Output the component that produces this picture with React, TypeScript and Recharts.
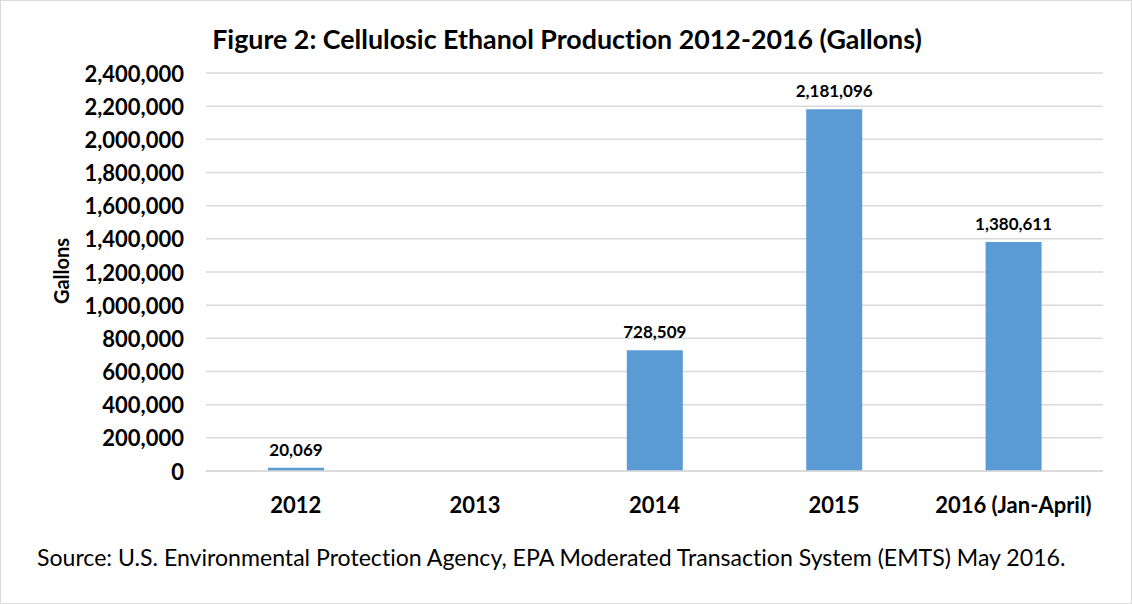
import React from 'react';
import { BarChart, Bar, XAxis, YAxis, CartesianGrid, LabelList } from 'recharts';

const categories = ['2012', '2013', '2014', '2015', '2016 (Jan-April)'];
const gallons: (number | null)[] = [20069, null, 728509, 2181096, 1380611];
const yTicks = [0, 200000, 400000, 600000, 800000, 1000000, 1200000, 1400000, 1600000, 1800000, 2000000, 2200000, 2400000];

const data = categories.map((c, i) => ({ year: c, value: gallons[i] }));

const FONT = 'Lato, "Open Sans", sans-serif';
const fmt = (v: number) => v.toLocaleString('en-US');

const YTick = (props: any) => {
  const { x, y, payload } = props;
  return (
    <text x={x} y={y} textAnchor="end" dominantBaseline="central" fontFamily={FONT} fontWeight={700} fontSize={22} fill="#000">
      {fmt(payload.value)}
    </text>
  );
};

const XTick = (props: any) => {
  const { x, payload } = props;
  return (
    <text x={x} y={503} textAnchor="middle" dominantBaseline="central" fontFamily={FONT} fontWeight={700} fontSize={22} fill="#000">
      {payload.value}
    </text>
  );
};

export default function App() {
  return (
    <div style={{ position: 'absolute', left: 0, top: 0, width: 1132, height: 604, background: '#fff', boxSizing: 'border-box', border: '1px solid #d9d9d9', fontFamily: FONT, fontVariantLigatures: 'none' }}>
      <div style={{ position: 'absolute', left: 0, top: 0 }}>
        <BarChart width={1132} height={604} data={data} margin={{ top: 72, right: 30, bottom: 104, left: 85 }}>
          <CartesianGrid horizontal vertical={false} stroke="#d9d9d9" strokeWidth={1.5} />
          <XAxis dataKey="year" height={30} axisLine={{ stroke: '#d9d9d9', strokeWidth: 1.5 }} tickLine={false} tick={<XTick />} interval={0} />
          <YAxis width={120} domain={[0, 2400000]} ticks={yTicks} axisLine={false} tickLine={false} tickSize={0} tickMargin={22} tick={<YTick />} interval={0} />
          <Bar dataKey="value" fill="#5b9bd5" barSize={56} isAnimationActive={false}>
            <LabelList dataKey="value" position="top" offset={12} formatter={(v: any) => (v == null ? '' : fmt(v))} style={{ fontFamily: FONT, fontWeight: 700, fontSize: 17, fill: '#000' }} />
          </Bar>
        </BarChart>
      </div>
      <div style={{ position: 'absolute', left: 0, width: 1132, top: 38, transform: 'translateY(-50%)', textAlign: 'center', fontWeight: 700, fontSize: 26.8, color: '#000', whiteSpace: 'nowrap' }}>
        Figure 2: Cellulosic Ethanol Production 2012-2016 (Gallons)
      </div>
      <div style={{ position: 'absolute', left: 60, top: 270, transform: 'translate(-50%, -50%) rotate(-90deg)', fontWeight: 700, fontSize: 20, color: '#000', whiteSpace: 'nowrap' }}>
        Gallons
      </div>
      <div style={{ position: 'absolute', left: 36, top: 556, transform: 'translateY(-50%)', fontSize: 23.1, color: '#000', whiteSpace: 'nowrap' }}>
        Source: U.S. Environmental Protection Agency, EPA Moderated Transaction System (EMTS) May 2016.
      </div>
    </div>
  );
}
